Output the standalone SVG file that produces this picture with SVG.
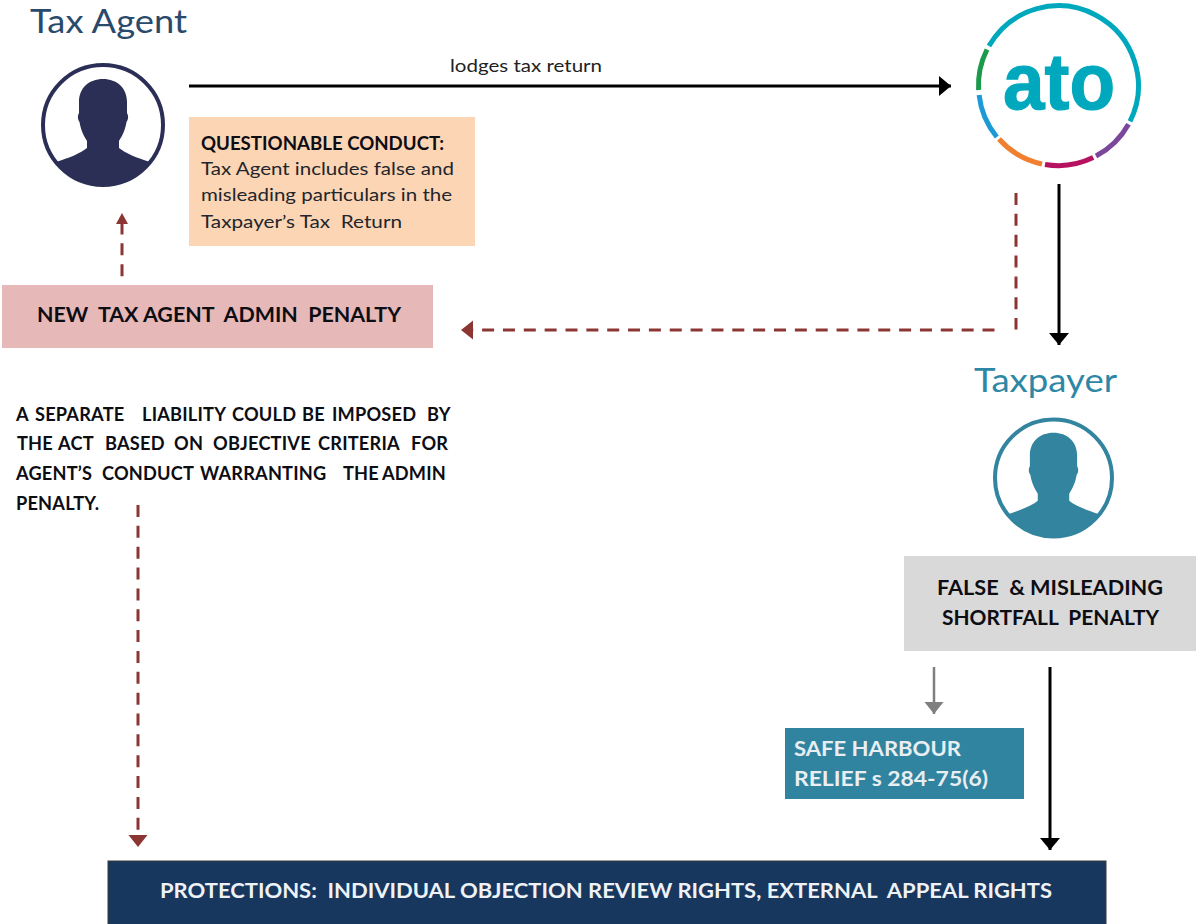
<svg xmlns="http://www.w3.org/2000/svg" width="1196" height="924" viewBox="0 0 1196 924" xml:space="preserve">
<defs>
<style>
text{font-family:Lato,"Open Sans","Liberation Sans",sans-serif;white-space:pre}
.title{font-size:33px}
.b{font-weight:700;fill:#0d0d14}
.r{fill:#22262c}
.solid{stroke:#000;stroke-width:3;fill:none}
.dash{stroke:#8c3634;stroke-width:3;fill:none;stroke-dasharray:12 8.850}
.gray{stroke:#7f7f7f;stroke-width:2.500;fill:none}
.arc{fill:none;stroke-width:5}
.just{font-size:18.200px;letter-spacing:.2px}
</style>
<marker id="ah" markerUnits="userSpaceOnUse" markerWidth="13" markerHeight="22" refX="12" refY="11" orient="auto"><path d="M0 1L12 11L0 21Z" fill="#000"/></marker>
<marker id="ahd" markerUnits="userSpaceOnUse" markerWidth="13" markerHeight="22" refX="7" refY="11" orient="auto"><path d="M0 1.500L12 11L0 20.500Z" fill="#8c3634"/></marker>
<marker id="ahds" markerUnits="userSpaceOnUse" markerWidth="12" markerHeight="14" refX="6" refY="7" orient="auto"><path d="M0 1L11 7L0 13Z" fill="#8c3634"/></marker>
<marker id="ahg" markerUnits="userSpaceOnUse" markerWidth="13" markerHeight="22" refX="12" refY="11" orient="auto"><path d="M0 1.500L12 11L0 20.500Z" fill="#7f7f7f"/></marker>
<symbol id="person" viewBox="0 0 124 124"><path d="M62 16C48 16 38 25 38 39V50C36 53 37 57 38.500 59C40 68 43 73 46 78V85C40 90 28 95 14.800 99A60 60 0 0 0 109.200 99C96 95 84 90 78 85V78C81 73 84 68 85.500 59C87 57 88 53 86 50V39C86 25 76 16 62 16Z"/></symbol>
</defs>
<rect width="1196" height="924" fill="#fff"/>
<g id="connectors">
<path class="solid" d="M189 86H951" marker-end="url(#ah)"/>
<path class="solid" d="M1059 184V345" marker-end="url(#ah)"/>
<path class="solid" d="M1050 667V850" marker-end="url(#ah)"/>
<path class="gray" d="M934 667V714" marker-end="url(#ahg)"/>
<path class="dash" d="M1016 193V329.500"/>
<path class="dash" d="M994.500 330H466" marker-end="url(#ahd)"/>
<path class="dash" d="M122 286V218" stroke-dashoffset="11" marker-end="url(#ahds)"/>
<path class="dash" d="M138 505V842" marker-end="url(#ahd)"/>
</g>
<g id="tax-agent">
<text class="title" x="30" y="33" fill="#2a4a6c" textLength="157" lengthAdjust="spacingAndGlyphs">Tax Agent</text>
<circle cx="103" cy="125" r="60" fill="#fff" stroke="#2b2f55" stroke-width="4"/>
<use href="#person" x="41" y="63" width="124" height="124" fill="#2b2f55"/>
</g>
<g id="lodges-label"><text x="450" y="72" font-size="17" fill="#222" textLength="152" lengthAdjust="spacingAndGlyphs">lodges tax return</text></g>
<g id="questionable">
<rect x="189" y="117" width="286" height="129" fill="#fcd5b4"/>
<text x="201" y="150" font-size="18" class="b" textLength="243" lengthAdjust="spacingAndGlyphs">QUESTIONABLE CONDUCT:</text>
<text x="201" y="175" font-size="18" class="r" textLength="253" lengthAdjust="spacingAndGlyphs">Tax Agent includes false and</text>
<text x="201" y="201" font-size="18" class="r" textLength="251" lengthAdjust="spacingAndGlyphs">misleading particulars in the</text>
<text x="201" y="228" font-size="18" class="r" textLength="201" lengthAdjust="spacingAndGlyphs">Taxpayer’s Tax  Return</text>
</g>
<g id="ato">
<path class="arc" d="M988.900 46.100A80 80 0 0 1 1130 121.400" stroke="#00a8bd"/>
<path class="arc" d="M987 49.500A80 80 0 0 0 978.600 90" stroke="#1a9a4a"/>
<path class="arc" d="M979.100 95A80 80 0 0 0 996.800 137" stroke="#1b9ad6"/>
<path class="arc" d="M999 139A80 80 0 0 0 1042 164" stroke="#f07f30"/>
<path class="arc" d="M1045 164.500A80 80 0 0 0 1093.200 157.600" stroke="#b5135f"/>
<path class="arc" d="M1096 156A80 80 0 0 0 1128.500 124.200" stroke="#7a479b"/>
<text x="1003" y="108.500" font-size="79" font-weight="700" fill="#00a8bd" stroke="#00a8bd" stroke-width="1.200" style="font-family:'Liberation Sans',sans-serif" textLength="112" lengthAdjust="spacingAndGlyphs">ato</text>
</g>
<g id="admin-penalty">
<rect x="2" y="285" width="431" height="63" fill="#e6b8b7"/>
<text x="37" y="322" font-size="21" class="b" textLength="364" lengthAdjust="spacingAndGlyphs">NEW  TAX AGENT  ADMIN  PENALTY</text>
</g>
<g id="liability">
<text y="421" class="b just"><tspan x="16">A</tspan><tspan x="35">SEPARATE</tspan><tspan x="142">LIABILITY</tspan><tspan x="232">COULD</tspan><tspan x="302">BE</tspan><tspan x="332">IMPOSED</tspan><tspan x="427">BY</tspan></text>
<text y="450" class="b just"><tspan x="17">THE</tspan><tspan x="58">ACT</tspan><tspan x="105">BASED</tspan><tspan x="174">ON</tspan><tspan x="213">OBJECTIVE</tspan><tspan x="318">CRITERIA</tspan><tspan x="411">FOR</tspan></text>
<text y="480" class="b just"><tspan x="16">AGENT’S</tspan><tspan x="102">CONDUCT</tspan><tspan x="200">WARRANTING</tspan><tspan x="343">THE</tspan><tspan x="382">ADMIN</tspan></text>
<text y="510" x="16" class="b just">PENALTY.</text>
</g>
<g id="taxpayer">
<text class="title" x="974" y="392" fill="#2e87a5" textLength="143" lengthAdjust="spacingAndGlyphs">Taxpayer</text>
<circle cx="1053.500" cy="478" r="58.500" fill="#fff" stroke="#33849f" stroke-width="4"/>
<use href="#person" x="992.500" y="417" width="122" height="122" fill="#33849f"/>
</g>
<g id="shortfall">
<rect x="904" y="556" width="292" height="95" fill="#d9d9d9"/>
<text x="937" y="595" font-size="21" class="b" textLength="226" lengthAdjust="spacingAndGlyphs">FALSE  &amp; MISLEADING</text>
<text x="942" y="625" font-size="21" class="b" textLength="217" lengthAdjust="spacingAndGlyphs">SHORTFALL  PENALTY</text>
</g>
<g id="safe-harbour">
<rect x="785" y="728" width="239" height="71" fill="#31849f"/>
<text x="794" y="756" font-size="21" font-weight="700" fill="#e8eef2" textLength="167" lengthAdjust="spacingAndGlyphs">SAFE HARBOUR</text>
<text x="794" y="786" font-size="21" font-weight="700" fill="#e8eef2" textLength="194" lengthAdjust="spacingAndGlyphs">RELIEF s 284-75(6)</text>
</g>
<g id="protections">
<rect x="108" y="861" width="998" height="64" fill="#17375e" stroke="#3a3a3a" stroke-width="1"/>
<text x="160" y="898" font-size="20" font-weight="700" fill="#eef2f6" textLength="892" lengthAdjust="spacingAndGlyphs">PROTECTIONS:  INDIVIDUAL OBJECTION REVIEW RIGHTS, EXTERNAL  APPEAL RIGHTS</text>
</g>
</svg>
